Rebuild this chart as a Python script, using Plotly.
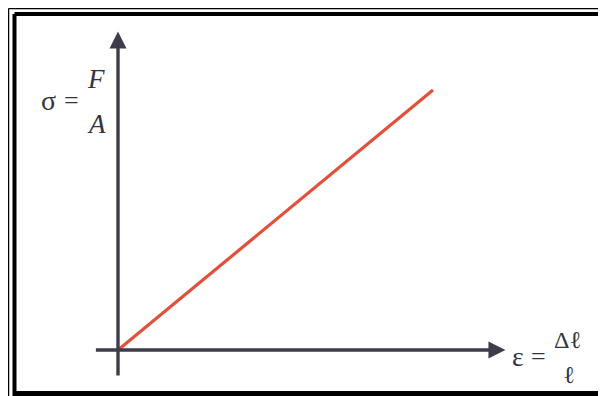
import plotly.graph_objects as go

# stress-strain line (linear, elastic region)
strain = [0.0, 1.0]
stress = [0.0, 1.0]

# axis extents (data units)
x_axis = [-0.075, 1.23]
y_axis = [-0.104, 1.225]

W, H = 606, 396
OFF = 8             # default page margin of the html body
X0, X1 = 118, 433   # reference pixel of strain 0 / 1
Y0, Y1 = 350, 90    # reference pixel of stress 0 / 1


def px_x(p):
    return (p - X0) / (X1 - X0)


def px_y(p):
    return (Y0 - p) / (Y0 - Y1)


def paper_x(p):
    return (p - OFF) / W


def paper_y(p):
    return 1 - (p - OFF) / H


AXIS = "#3d3d4a"
SERIF = "Liberation Serif, DejaVu Serif, serif"

fig = go.Figure()
fig.add_trace(go.Scatter(
    x=strain, y=stress, mode="lines",
    line=dict(color="#e2503a", width=3.2),
    showlegend=False, hoverinfo="skip",
))

annotations = [
    # horizontal axis arrow
    dict(x=x_axis[1], y=0, ax=x_axis[0], ay=0, xref="x", yref="y", axref="x", ayref="y",
         showarrow=True, arrowhead=2, arrowsize=1.0, arrowwidth=3.4, arrowcolor=AXIS, text=""),
    # vertical axis arrow
    dict(x=0, y=y_axis[1], ax=0, ay=y_axis[0], xref="x", yref="y", axref="x", ayref="y",
         showarrow=True, arrowhead=2, arrowsize=1.0, arrowwidth=3.4, arrowcolor=AXIS, text=""),
]

# (text, ref px x, ref px y, font size, italic)
labels = [
    ("σ", 48, 100, 28, False),
    ("=", 71, 100, 26, False),
    ("F", 96, 79, 27, True),
    ("A", 96, 124, 27, True),
    ("ε", 518, 356, 28, False),
    ("=", 538, 356, 26, False),
    ("Δℓ", 567, 340, 24, False),
    ("ℓ", 569, 375, 24, False),
]
for txt, px, py, size, italic in labels:
    annotations.append(dict(
        x=px_x(px), y=px_y(py), xref="x", yref="y", showarrow=False,
        text=f"<i>{txt}</i>" if italic else txt,
        font=dict(family=SERIF, size=size, color="#34343f"),
    ))

# double frame (outer thin, inner thick); the right side runs off the picture
shapes = [
    dict(type="line", xref="paper", yref="paper", x0=paper_x(8.5), x1=1.1, y0=paper_y(8.5), y1=paper_y(8.5),
         line=dict(color="black", width=1.5)),
    dict(type="line", xref="paper", yref="paper", x0=paper_x(8.5), x1=paper_x(8.5), y0=-0.1, y1=paper_y(8.5),
         line=dict(color="black", width=1.5)),
    dict(type="line", xref="paper", yref="paper", x0=paper_x(14.5), x1=1.1, y0=paper_y(14), y1=paper_y(14),
         line=dict(color="black", width=4)),
    dict(type="line", xref="paper", yref="paper", x0=paper_x(14.5), x1=paper_x(14.5), y0=-0.1, y1=paper_y(14),
         line=dict(color="black", width=4)),
    dict(type="line", xref="paper", yref="paper", x0=paper_x(14.5), x1=1.1, y0=paper_y(393.5), y1=paper_y(393.5),
         line=dict(color="black", width=5)),
]

fig.update_layout(
    width=W, height=H,
    margin=dict(l=0, r=0, t=0, b=0),
    paper_bgcolor="white", plot_bgcolor="white",
    xaxis=dict(range=[px_x(OFF), px_x(W + OFF)], visible=False, fixedrange=True),
    yaxis=dict(range=[px_y(H + OFF), px_y(OFF)], visible=False, fixedrange=True),
    annotations=annotations,
    shapes=shapes,
)

fig.write_html("out.html")
